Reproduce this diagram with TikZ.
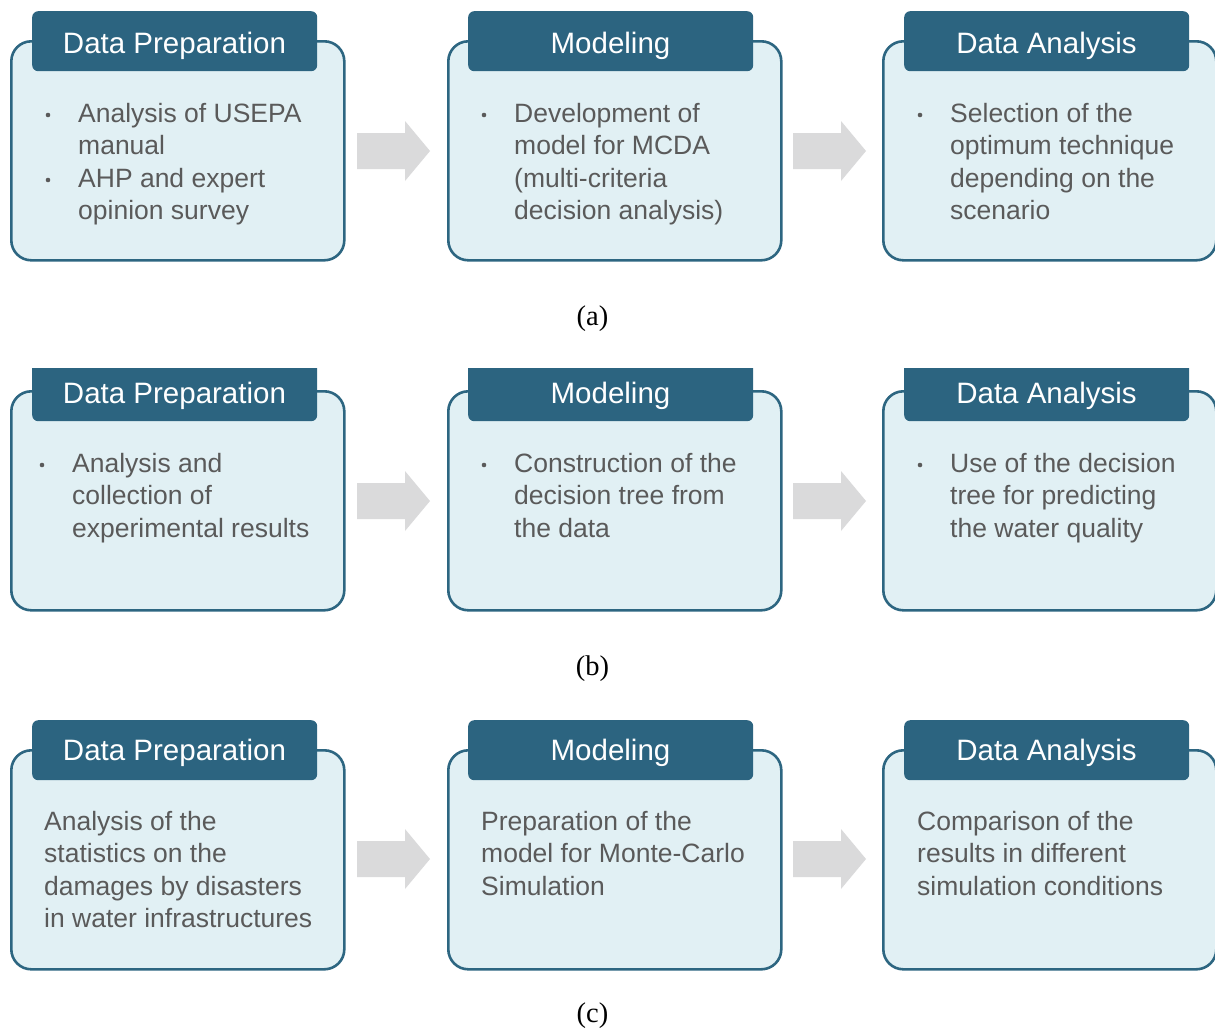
\documentclass[tikz,border=0pt]{standalone}
\usepackage{fontspec}
\setmainfont{Liberation Sans}
\newfontfamily\capfont{Liberation Serif}
\definecolor{boxfill}{HTML}{E1F0F4}
\definecolor{boxline}{HTML}{2D6681}
\definecolor{headfill}{HTML}{2C6480}
\definecolor{bodytext}{HTML}{5A5A5A}
\definecolor{arrowfill}{HTML}{DADADB}
\tikzset{
  bigbox/.style={draw=boxline, fill=boxfill, line width=2.6pt, rounded corners=20pt,
    minimum width=333pt, minimum height=219pt, anchor=north west, inner sep=0pt},
  headbox/.style={fill=headfill, rounded corners=6pt, minimum width=285pt,
    minimum height=60pt, anchor=north west, inner sep=0pt},
  headtext/.style={text=white, font=\fontsize{29.5}{34}\selectfont, anchor=base, inner sep=0pt},
  bodytxt/.style={text=bodytext, font=\fontsize{26.5}{32.6}\selectfont, align=left,
    anchor=base west, inner sep=0pt},
  captxt/.style={font=\capfont\fontsize{28.5}{32}\selectfont, anchor=base, inner sep=0pt},
  bulletdot/.style={fill=bodytext},
  blockarrow/.style={fill=arrowfill},
}
\newcommand\blockarr[3]{% x y name
  \coordinate (#3) at (#1,#2);
  \fill[blockarrow] ([shift={(0,-18)}]#3) -- ([shift={(48,-18)}]#3) -- ([shift={(48,-30)}]#3)
     -- ([shift={(73,0)}]#3) -- ([shift={(48,30)}]#3) -- ([shift={(48,18)}]#3)
     -- ([shift={(0,18)}]#3) -- cycle;}
\begin{document}
\begin{tikzpicture}[x=1pt,y=-1pt]
\useasboundingbox (0,0) rectangle (1215,1028);
% ---------------- row (a)
\node[bigbox] (a1) at (10,40) {};
\node[bigbox] (a2) at (447,40) {};
\node[bigbox] (a3) at (882,40) {};
\node[headbox] (a1h) at (32,11) {};
\node[headbox] (a2h) at (468,11) {};
\node[headbox] (a3h) at (904,11) {};
\node[headtext] (a1t) at (174.5,53) {Data Preparation};
\node[headtext] (a2t) at (610.5,53) {Modeling};
\node[headtext] (a3t) at (1046.5,53) {Data Analysis};
\fill[bulletdot] (48,115) circle (2.3);
\fill[bulletdot] (48,180) circle (2.3);
\node[bodytxt] (a1b) at (78,219.8) {Analysis of USEPA\\manual\\AHP and expert\\opinion survey};
\fill[bulletdot] (484,115) circle (2.3);
\node[bodytxt] (a2b) at (514,219.8) {Development of\\model for MCDA\\(multi-criteria\\decision analysis)};
\fill[bulletdot] (920,115) circle (2.3);
\node[bodytxt] (a3b) at (950,219.8) {Selection of the\\optimum technique\\depending on the\\scenario};
\blockarr{357}{151}{arA1}
\blockarr{793}{151}{arA2}
\node[captxt] (capa) at (592.5,325) {(a)};
% ---------------- row (b)
\node[bigbox] (b1) at (10,390) {};
\node[bigbox] (b2) at (447,390) {};
\node[bigbox] (b3) at (882,390) {};
\begin{scope}
\clip (0,368) rectangle (1215,700);
\node[headbox] (b1h) at (32,361) {};
\node[headbox] (b2h) at (468,361) {};
\node[headbox] (b3h) at (904,361) {};
\end{scope}
\node[headtext] (b1t) at (174.5,403) {Data Preparation};
\node[headtext] (b2t) at (610.5,403) {Modeling};
\node[headtext] (b3t) at (1046.5,403) {Data Analysis};
\fill[bulletdot] (42,465) circle (2.3);
\node[bodytxt] (b1b) at (72,537.2) {Analysis and\\collection of\\experimental results};
\fill[bulletdot] (484,465) circle (2.3);
\node[bodytxt] (b2b) at (514,537.2) {Construction of the\\decision tree from\\the data};
\fill[bulletdot] (920,465) circle (2.3);
\node[bodytxt] (b3b) at (950,537.2) {Use of the decision\\tree for predicting\\the water quality};
\blockarr{357}{501}{arB1}
\blockarr{793}{501}{arB2}
\node[captxt] (capb) at (592.5,675) {(b)};
% ---------------- row (c)
\node[bigbox] (c1) at (10,749) {};
\node[bigbox] (c2) at (447,749) {};
\node[bigbox] (c3) at (882,749) {};
\node[headbox] (c1h) at (32,720) {};
\node[headbox] (c2h) at (468,720) {};
\node[headbox] (c3h) at (904,720) {};
\node[headtext] (c1t) at (174.5,760) {Data Preparation};
\node[headtext] (c2t) at (610.5,760) {Modeling};
\node[headtext] (c3t) at (1046.5,760) {Data Analysis};
\node[bodytxt] (c1b) at (44,927.8) {Analysis of the\\statistics on the\\damages by disasters\\in water infrastructures};
\node[bodytxt] (c2b) at (481,895.2) {Preparation of the\\model for Monte-Carlo\\Simulation};
\node[bodytxt] (c3b) at (917,895.2) {Comparison of the\\results in different\\simulation conditions};
\blockarr{357}{859}{arC1}
\blockarr{793}{859}{arC2}
\node[captxt] (capc) at (592.5,1022) {(c)};
\end{tikzpicture}
\end{document}
